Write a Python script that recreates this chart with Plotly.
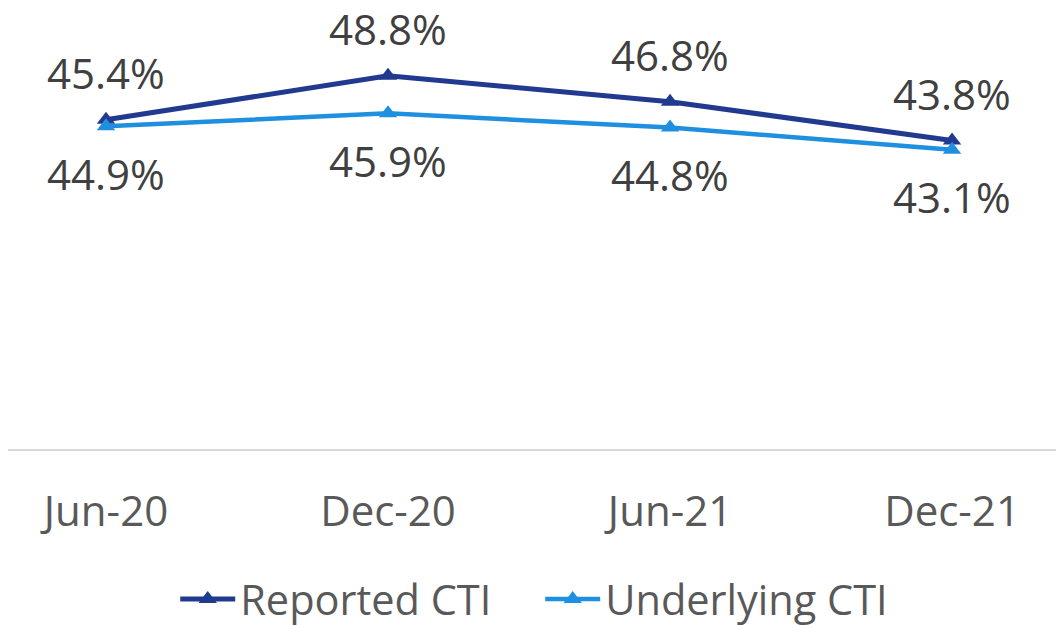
import plotly.graph_objects as go

categories = ["Jun-20", "Dec-20", "Jun-21", "Dec-21"]
reported = [45.4, 48.8, 46.8, 43.8]
underlying = [44.9, 45.9, 44.8, 43.1]

DARK = "#213a8f"
LIGHT = "#1f8fe0"
FONT = "Open Sans"

fig = go.Figure()
fig.add_trace(go.Scatter(
    x=categories, y=reported, name="Reported CTI", mode="lines+markers",
    line=dict(color=DARK, width=5), marker=dict(symbol="triangle-up", size=16, color=DARK)))
fig.add_trace(go.Scatter(
    x=categories, y=underlying, name="Underlying CTI", mode="lines+markers",
    line=dict(color=LIGHT, width=4.5), marker=dict(symbol="triangle-up", size=16, color=LIGHT)))

annotations = []
for c, v in zip(categories, reported):
    annotations.append(dict(x=c, y=v, text=f"{v:.1f}%", showarrow=False, yshift=47,
                            yanchor="middle", xanchor="center",
                            font=dict(family=FONT, size=42, color="#404040")))
for c, v in zip(categories, underlying):
    annotations.append(dict(x=c, y=v, text=f"{v:.1f}%", showarrow=False, yshift=-47,
                            yanchor="middle", xanchor="center",
                            font=dict(family=FONT, size=42, color="#404040")))

fig.update_layout(
    width=1056, height=617,
    margin=dict(l=0, r=0, t=0, b=176, autoexpand=False),
    plot_bgcolor="white", paper_bgcolor="white",
    showlegend=True,
    legend=dict(orientation="h", x=0.504, xanchor="center", y=-0.264, yanchor="top",
                font=dict(family=FONT, size=41.5, color="#595959"),
                itemwidth=55, entrywidth=295),
    annotations=annotations,
    xaxis=dict(type="category", range=[-0.3475, 3.397], showgrid=False, automargin=False,
               showline=True, linecolor="#d9d9d9", linewidth=2,
               ticks="", ticklabelstandoff=25,
               tickfont=dict(family=FONT, size=42, color="#595959")),
    yaxis=dict(range=[20, 54.03], showgrid=False, showticklabels=False, automargin=False,
               zeroline=False, showline=False),
)

fig.write_html("out.html")
